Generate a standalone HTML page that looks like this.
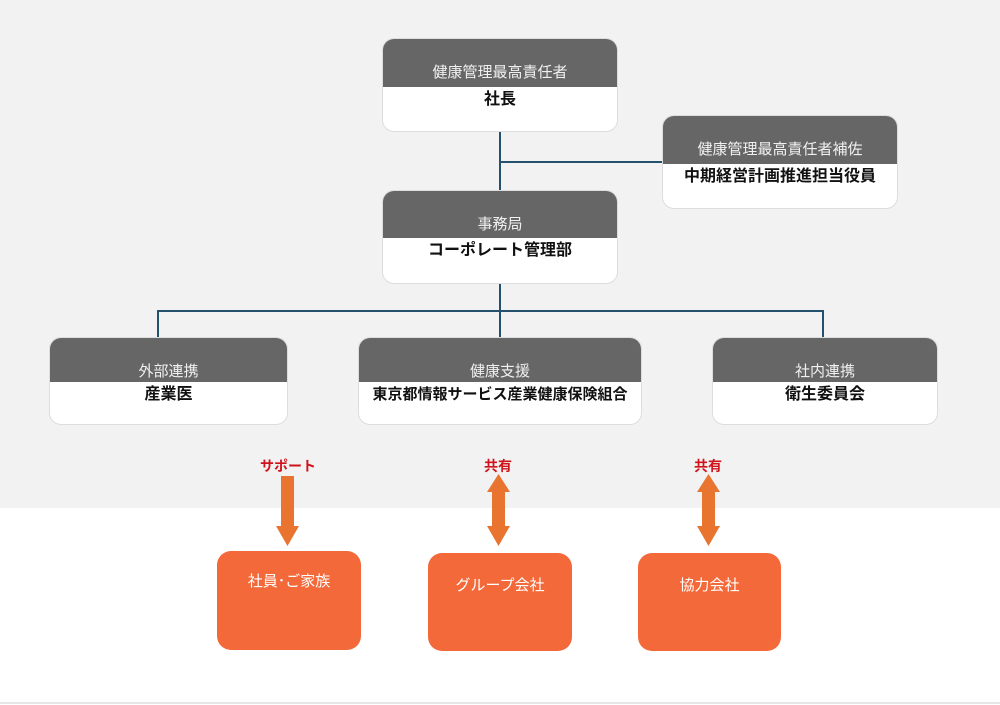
<!DOCTYPE html>
<html><head><meta charset="utf-8"><style>
body{margin:0;width:1000px;height:705px;background:#fff;position:relative;overflow:hidden;font-family:"Liberation Sans","Noto Sans CJK JP",sans-serif}
.bg{position:absolute;left:0;top:0;width:1000px;height:508px;background:#f2f2f2}
.box{position:absolute;background:#fff;border-radius:12px;overflow:hidden;border:1px solid #ddd;box-sizing:border-box}
.box .h{background:#666;color:#f0f0f0;font-size:15px;text-align:center;box-sizing:border-box;padding-top:24px;line-height:20px}
.box .b{color:#111;font-size:16px;text-align:center;font-weight:bold;line-height:20px;padding-top:3px}
.ln{position:absolute;background:#24516b}
.or{position:absolute;background:#f4693a;border-radius:14px;color:#fff;font-size:15px;text-align:center;padding-top:19px;box-sizing:border-box}
.lab{position:absolute;color:#d0121b;font-weight:bold;font-size:14px;text-align:center;width:100px}
</style></head><body>
<div class="bg"></div>
<div class="ln" style="left:499px;top:131px;width:2px;height:60px"></div>
<div class="ln" style="left:499px;top:161px;width:164px;height:2px"></div>
<div class="ln" style="left:499px;top:283px;width:2px;height:29px"></div>
<div class="ln" style="left:157px;top:310px;width:667px;height:2px"></div>
<div class="ln" style="left:157px;top:310px;width:2px;height:28px"></div>
<div class="ln" style="left:822px;top:310px;width:2px;height:28px"></div>
<div class="ln" style="left:499px;top:310px;width:2px;height:28px"></div>

<div class="box" style="left:382px;top:38px;width:236px;height:94px"><div class="h" style="height:48px">健康管理最高責任者</div><div class="b">社長</div></div>
<div class="box" style="left:662px;top:115px;width:236px;height:94px"><div class="h" style="height:48px">健康管理最高責任者補佐</div><div class="b">中期経営計画推進担当役員</div></div>
<div class="box" style="left:382px;top:190px;width:236px;height:94px"><div class="h" style="height:47px">事務局</div><div class="b">コーポレート管理部</div></div>
<div class="box" style="left:49px;top:337px;width:239px;height:88px"><div class="h" style="height:44px">外部連携</div><div class="b">産業医</div></div>
<div class="box" style="left:358px;top:337px;width:284px;height:88px"><div class="h" style="height:44px">健康支援</div><div class="b" style="font-size:15px">東京都情報サービス産業健康保険組合</div></div>
<div class="box" style="left:712px;top:337px;width:226px;height:88px"><div class="h" style="height:44px">社内連携</div><div class="b">衛生委員会</div></div>

<div class="lab" style="left:238px;top:456px">サポート</div>
<div class="lab" style="left:448px;top:456px">共有</div>
<div class="lab" style="left:658px;top:456px">共有</div>

<svg style="position:absolute;left:0;top:0" width="1000" height="705">
<g fill="#e8742f">
<rect x="281" y="476" width="13" height="52"/><polygon points="276,526 299,526 287.5,546"/>
<rect x="492" y="490" width="13" height="38"/><polygon points="487,492 510,492 498.5,474"/><polygon points="487,526 510,526 498.5,546"/>
<rect x="702" y="490" width="13" height="38"/><polygon points="697,492 720,492 708.5,474"/><polygon points="697,526 720,526 708.5,546"/>
</g>
<rect x="0" y="702" width="1000" height="2" fill="#e6e6e6"/>
</svg>

<div class="or" style="left:217px;top:551px;width:144px;height:99px">社員･ご家族</div>
<div class="or" style="left:428px;top:553px;width:144px;height:98px;padding-top:21px">グループ会社</div>
<div class="or" style="left:638px;top:553px;width:143px;height:98px;padding-top:21px">協力会社</div>
</body></html>
